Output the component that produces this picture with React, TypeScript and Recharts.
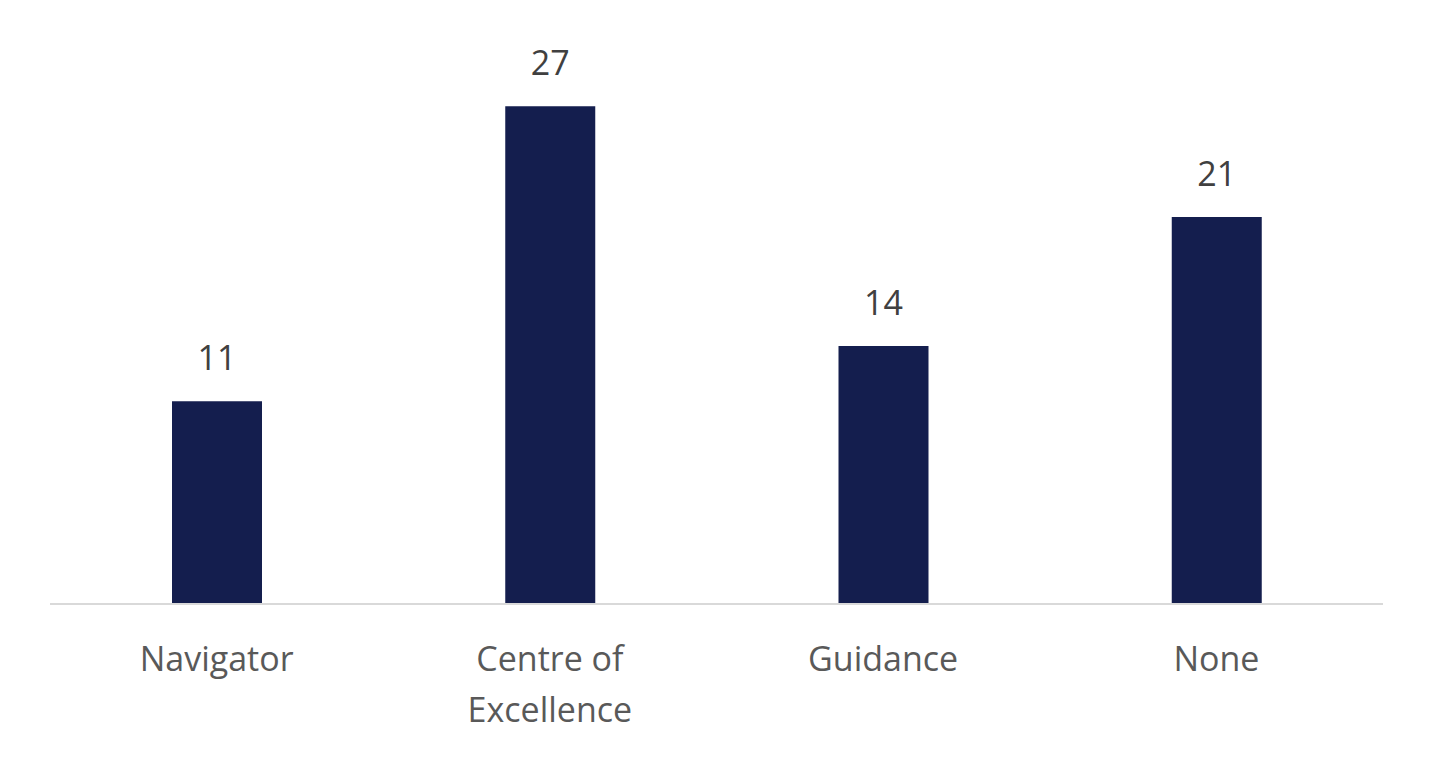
import React from 'react';
import { BarChart, Bar, XAxis, YAxis, LabelList } from 'recharts';

const categories = ['Navigator', 'Centre of Excellence', 'Guidance', 'None'];
const tickLines: string[][] = [['Navigator'], ['Centre of', 'Excellence'], ['Guidance'], ['None']];
const counts = [11, 27, 14, 21];

const data = categories.map((name, i) => ({ name, count: counts[i], lines: tickLines[i] }));

const FONT = '"Open Sans", "Liberation Sans", sans-serif';

const CategoryTick = ({ x, y, index }: any) => {
  const lines = tickLines[index] || [];
  return (
    <g>
      {lines.map((line, i) => (
        <text
          key={i}
          x={x}
          y={y + 59 + i * 51}
          textAnchor="middle"
          fill="#595959"
          fontSize={34}
          fontFamily={FONT}
        >
          {line}
        </text>
      ))}
    </g>
  );
};

const ValueLabel = ({ x, y, width, value }: any) => (
  <text
    x={x + width / 2}
    y={y - 31}
    textAnchor="middle"
    fill="#404040"
    fontSize={34}
    fontFamily={FONT}
  >
    {value}
  </text>
);

const App: React.FC = () => {
  return (
    <div style={{ position: 'absolute', left: 0, top: 0, background: '#fff' }}>
      <BarChart
        width={1435}
        height={762}
        data={data}
        margin={{ top: 51, right: 52, left: 50, bottom: 58 }}
        barCategoryGap={0}
      >
        <XAxis
          dataKey="name"
          height={100}
          tickLine={false}
          axisLine={{ stroke: '#D9D9D9', strokeWidth: 2 }}
          tick={<CategoryTick />}
          interval={0}
        />
        <YAxis hide domain={[0, 30]} />
        <Bar dataKey="count" fill="#141E4E" barSize={90} isAnimationActive={false}>
          <LabelList dataKey="count" content={<ValueLabel />} />
        </Bar>
      </BarChart>
    </div>
  );
};

export default App;
